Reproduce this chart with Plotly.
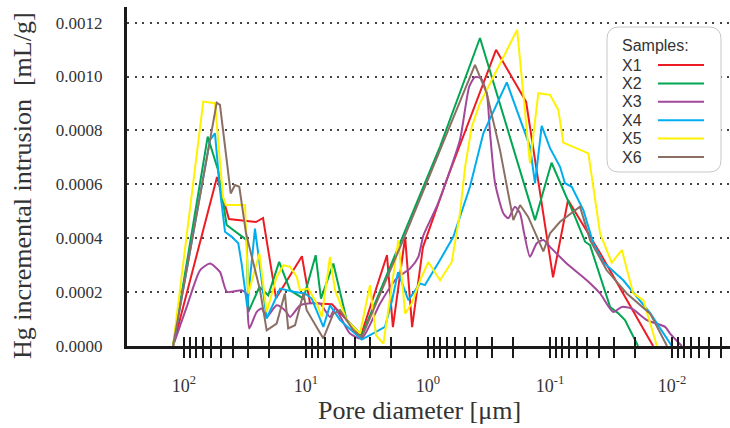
import plotly.graph_objects as go

# ---------------- data (pore diameter in µm, incremental intrusion in 1e-4 mL/g) ----------------
series_names = ["X1", "X2", "X3", "X4", "X5", "X6"]
series_colors = ["#ed1c24", "#00a651", "#a3479b", "#00aeef", "#fff200", "#8b6f65"]

diam_x1 = [123, 53.6, 42.8, 25.7, 22.5, 17.6, 10.8, 9.27, 6.12, 3.54, 2.17, 1.94, 1.54, 1.35,
           1.10, 0.703, 0.277, 0.157, 0.0945, 0.0712, 0.0389, 0.0143]
incr_x1 = [0, 6.27, 4.71, 4.60, 4.75, 1.77, 3.33, 1.59, 1.55, 0.40, 3.37, 0.70, 4.04, 0.70,
           3.67, 6.16, 10.99, 9.06, 2.55, 5.42, 3.45, 0]

diam_x2 = [123, 63.9, 52.6, 44.7, 30.6, 29.7, 24.1, 20.4, 16.6, 13.5, 10.5, 8.33, 7.54, 5.97,
           4.64, 3.49, 0.797, 0.375, 0.1327, 0.0972, 0.0624, 0.0516, 0.0470, 0.0322, 0.0277,
           0.0243, 0.0190]
incr_x2 = [0, 7.77, 6.53, 4.49, 3.93, 1.26, 2.19, 1.88, 3.12, 2.07, 1.76, 3.37, 1.76, 3.06,
           0.96, 0.40, 7.40, 11.43, 4.67, 6.80, 4.79, 3.87, 3.74, 1.45, 1.22, 0.96, 0]

diam_x3 = [123, 95.0, 73.9, 61.2, 50.7, 44.4, 33.7, 31.0, 29.2, 25.4, 23.1, 21.0, 17.4, 14.9,
           13.5, 11.2, 9.58, 7.68, 6.36, 5.78, 4.36, 3.49, 2.47, 1.81, 1.40, 1.20, 1.09, 0.849,
           0.703, 0.547, 0.459, 0.412, 0.370, 0.330, 0.310, 0.282, 0.241, 0.220, 0.194, 0.176,
           0.163, 0.146, 0.1285, 0.1135, 0.1, 0.0730, 0.0500, 0.0389, 0.0303, 0.0258, 0.0214,
           0.0161, 0.0114, 0.01038, 0.00832]
incr_x3 = [0, 1.45, 2.81, 3.06, 2.75, 2.01, 2.07, 1.95, 0.65, 1.26, 1.39, 1.08, 1.51, 1.33,
           1.08, 1.51, 1.58, 1.58, 1.08, 1.39, 0.46, 0.28, 1.58, 2.51, 2.88, 3.31, 4.11, 5.17,
           6.16, 7.65, 9.63, 9.98, 9.94, 9.38, 7.89, 6.04, 4.92, 4.74, 5.17, 4.92,
           4.18, 3.31, 3.81, 3.93, 3.68, 3.06, 2.44, 1.95, 1.26, 1.45, 1.39,
           0.96, 0.71, 0.46, 0]

diam_x4 = [123, 61.2, 55.7, 50.7, 46.1, 40.6, 35.9, 33.7, 30.3, 26.2, 21.0, 16.3, 12.7, 10.2,
           8.98, 7.21, 6.36, 5.26, 3.49, 2.25, 1.97, 1.76, 1.45, 1.16, 1.06, 0.963, 0.797,
           0.620, 0.453, 0.352, 0.226, 0.146, 0.1327, 0.117, 0.1, 0.0828, 0.0754, 0.0664,
           0.0533, 0.0442, 0.0366, 0.0251, 0.0183, 0.0151, 0.01005]
incr_x4 = [0, 7.65, 7.89, 5.79, 4.24, 4.05, 3.81, 3.06, 1.45, 4.36, 1.02, 2.13, 2.01, 1.95,
           1.76, 0.71, 1.51, 0.96, 0.24, 0.71, 1.70, 2.74, 1.70, 2.32, 2.26, 2.56, 3.19,
           4.05, 5.91, 7.89, 9.78, 7.40, 6.04, 8.17, 7.34, 6.65, 6.04, 5.91,
           5.04, 3.81, 3.11, 2.44, 1.70, 1.22, 0]

diam_x5 = [123, 69.5, 55.7, 47.9, 45.3, 31.6, 29.7, 24.1, 21.0, 17.4, 15.3, 13.5, 11.9, 11.2,
           9.58, 8.17, 7.44, 6.36, 5.78, 4.64, 3.61, 2.99, 2.67, 2.32, 1.75, 1.54, 1.36, 1.16,
           0.994, 0.797, 0.639, 0.547, 0.497, 0.438, 0.375, 0.186, 0.146, 0.1247, 0.1, 0.0855,
           0.0778, 0.0485, 0.0389, 0.0312, 0.0258, 0.0208, 0.0172, 0.0133]
incr_x5 = [0, 9.07, 9.01, 5.53, 5.23, 5.23, 1.95, 3.43, 1.26, 2.56, 3.00, 2.94, 2.56, 2.07,
           2.13, 1.58, 1.08, 3.31, 2.07, 0.96, 0.46, 2.26, 0.40, 0.09, 3.93, 1.20, 1.58, 2.44,
           3.12, 2.44, 3.12, 4.93, 6.64, 8.14, 9.01, 11.73, 6.78, 9.38, 9.32, 8.76,
           7.55, 7.15, 4.18, 3.09, 3.56, 1.95, 1.70, 0]

diam_x6 = [123, 53.9, 50.7, 41.4, 38.2, 35.2, 31.0, 23.8, 21.0, 17.4, 14.9, 14.0, 12.3, 10.5,
           9.87, 7.21, 5.97, 5.26, 4.10, 3.49, 1.60, 0.797, 0.412, 0.330, 0.257, 0.200, 0.176,
           0.151, 0.1135, 0.1, 0.0828, 0.0568, 0.0470, 0.0343, 0.0235, 0.0151, 0.0110]
incr_x6 = [0, 9.03, 8.95, 5.66, 5.97, 5.91, 4.18, 2.07, 0.58, 0.83, 1.95, 0.65, 0.77, 1.95,
           1.33, 0.28, 1.20, 1.33, 0.58, 0.33, 3.93, 7.27, 10.43, 9.38, 7.27, 4.67, 5.23,
           4.79, 3.51, 4.18, 4.61, 5.17, 3.93, 2.81, 1.95, 1.20, 0]

y_tick_values = [0.0, 0.0002, 0.0004, 0.0006, 0.0008, 0.0010, 0.0012]
x_decades = [-3, -2, -1, 0, 1, 2]

UNIT = 1e-4  # values above are in units of 1e-4 mL/g

# ---------------- layout helpers ----------------
W, H = 730, 428
ML, MR, MT, MB = 127, 0, 7, 82
PW, PH = W - ML - MR, H - MT - MB


def fx(px):
    return (px - ML) / PW


def fy(py):
    return (H - MB - py) / PH


serif = "Liberation Serif"
sans = "Liberation Sans"

fig = go.Figure()
all_d = [diam_x1, diam_x2, diam_x3, diam_x4, diam_x5, diam_x6]
all_v = [incr_x1, incr_x2, incr_x3, incr_x4, incr_x5, incr_x6]
for name, color, d, v in zip(series_names, series_colors, all_d, all_v):
    shape = "spline" if name == "X3" else "linear"
    fig.add_trace(go.Scatter(
        x=d, y=[val * UNIT for val in v], mode="lines", name=name,
        line=dict(color=color, width=2, shape=shape, smoothing=0.6),
        showlegend=False,
    ))
# helper trace so the second (inside-tick) x axis is drawn
fig.add_trace(go.Scatter(x=[], y=[], xaxis="x2", showlegend=False, hoverinfo="skip"))

tickvals, ticktext = [], []
for e in x_decades:
    for k in range(1, 10):
        val = k * 10.0 ** e
        if 0.0034 <= val <= 100.5:
            tickvals.append(val)
            ticktext.append("10<sup>%d</sup>" % e if k == 1 else "")

xrange = [2.467, -2.475]

fig.update_layout(
    width=W, height=H,
    margin=dict(l=ML, r=MR, t=MT, b=MB, autoexpand=False),
    paper_bgcolor="white", plot_bgcolor="white",
    showlegend=False,
    xaxis=dict(
        type="log", range=xrange, tickvals=tickvals, ticktext=ticktext,
        ticks="outside", ticklen=9, tickwidth=1.8, tickcolor="#1a1a1a",
        showline=True, linecolor="#1a1a1a", linewidth=3,
        showgrid=False, zeroline=False,
        tickfont=dict(family=serif, size=18, color="#333333"),
        ticklabelstandoff=12,
    ),
    xaxis2=dict(
        type="log", range=xrange, overlaying="x", anchor="y", side="bottom",
        tickvals=tickvals, ticks="inside", ticklen=9, tickwidth=1.8, tickcolor="#1a1a1a",
        showticklabels=False, showgrid=False, showline=False, zeroline=False,
    ),
    yaxis=dict(
        range=[0, 0.001258], tickvals=y_tick_values, tickformat=".4f",
        ticks="", showline=True, linecolor="#1a1a1a", linewidth=3,
        showgrid=True, gridcolor="#444444", gridwidth=2, griddash="2px,5.5px",
        zeroline=False,
        tickfont=dict(family=serif, size=17, color="#333333"),
        ticklabelstandoff=18,
    ),
)

annotations = [
    dict(text="Pore diameter [μm]", xref="paper", yref="paper", x=fx(419), y=fy(410),
         xanchor="center", yanchor="middle", showarrow=False,
         font=dict(family=serif, size=26, color="#333333")),
    dict(text="Hg incremental intrusion&nbsp; [mL/g]", xref="paper", yref="paper",
         x=fx(22), y=fy(186), textangle=-90, xanchor="center", yanchor="middle",
         showarrow=False, font=dict(family=serif, size=26, color="#333333")),
]

# legend box (rounded rectangle) drawn manually: symbols sit to the right of the labels
x0, x1, y0, y1, r = 607, 721, 27, 172, 12
path = (f"M {fx(x0 + r)},{fy(y0)} L {fx(x1 - r)},{fy(y0)} Q {fx(x1)},{fy(y0)} {fx(x1)},{fy(y0 + r)} "
        f"L {fx(x1)},{fy(y1 - r)} Q {fx(x1)},{fy(y1)} {fx(x1 - r)},{fy(y1)} "
        f"L {fx(x0 + r)},{fy(y1)} Q {fx(x0)},{fy(y1)} {fx(x0)},{fy(y1 - r)} "
        f"L {fx(x0)},{fy(y0 + r)} Q {fx(x0)},{fy(y0)} {fx(x0 + r)},{fy(y0)} Z")
shapes = [dict(type="path", path=path, xref="paper", yref="paper",
               line=dict(color="#c8c8c8", width=1), fillcolor="white", layer="above")]

annotations.append(dict(text="Samples:", xref="paper", yref="paper", x=fx(620), y=fy(46),
                        xanchor="left", yanchor="middle", showarrow=False,
                        font=dict(family=sans, size=16, color="#333333")))
row0, row_step = 65, 18.4
for i, (name, color) in enumerate(zip(series_names, series_colors)):
    cy = row0 + i * row_step
    annotations.append(dict(text=name, xref="paper", yref="paper", x=fx(620), y=fy(cy),
                            xanchor="left", yanchor="middle", showarrow=False,
                            font=dict(family=sans, size=16, color="#333333")))
    shapes.append(dict(type="line", xref="paper", yref="paper",
                       x0=fx(658), x1=fx(704), y0=fy(cy), y1=fy(cy),
                       line=dict(color=color, width=2), layer="above"))

fig.update_layout(annotations=annotations, shapes=shapes)

fig.write_html("out.html",
               config={"displayModeBar": False},
               post_script="document.body.style.margin='0';document.body.style.overflow='hidden';")
